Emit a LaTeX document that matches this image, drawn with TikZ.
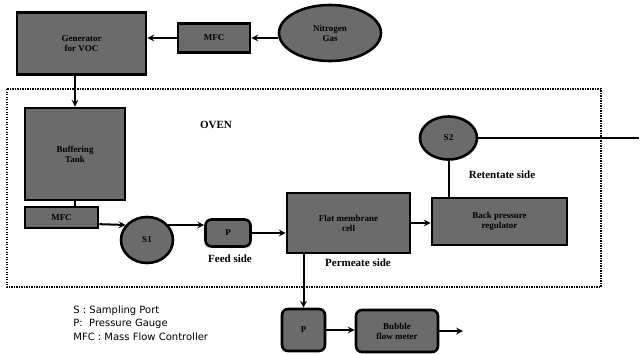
\documentclass[tikz,border=0pt]{standalone}
\usepackage{fontspec}
\setmainfont{Liberation Serif}
\setsansfont{DejaVu Sans}
\usepackage{tikz}
\usetikzlibrary{shapes.geometric}
\definecolor{shade}{gray}{0.42}

\begin{document}
\begin{tikzpicture}[x=1pt, y=-1pt, thick,
  unit/.style={draw, line width=2.6pt, fill=shade, inner sep=0pt, align=center,
    font=\bfseries\fontsize{9}{10}\selectfont},
  gauge/.style={unit, rounded corners=6pt},
  port/.style={unit, ellipse},
  flow/.style={->, >=stealth, line width=2pt},
  pipe/.style={line width=2pt},
  tag/.style={font=\bfseries\fontsize{11}{12}\selectfont},
  legend/.style={anchor=west, inner sep=0pt, font=\sffamily\fontsize{10}{11}\selectfont}]
  \useasboundingbox (0, 0) rectangle (641, 354);

  % oven
  \draw[line width=2.2pt, dash pattern=on 1.4pt off 1.1pt] (7, 89) rectangle (601, 287);
  \node[tag] (oven) at (216, 125) {OVEN};

  % gas supply
  \node[unit, minimum width=129, minimum height=62] (gen) at (81.5, 43.5) {Generator\\for VOC};
  \node[unit, minimum width=72, minimum height=29] (mfcA) at (214, 38) {MFC};
  \node[port, minimum width=102, minimum height=56] (ntwo) at (330, 33) {Nitrogen\\Gas};

  \draw[flow] (ntwo.west |- mfcA.east) -- (mfcA.east);
  \draw[flow] (mfcA.west) -- (mfcA.west -| gen.east);

  % feed line
  \node[unit, minimum width=100, minimum height=92] (buf) at (75, 154) {Buffering\\Tank};
  \node[unit, minimum width=73, minimum height=21] (mfcB) at (61.5, 217.5) {MFC};
  \node[port, minimum width=52, minimum height=46] (sone) at (147, 240) {S1};
  \node[gauge, minimum width=45, minimum height=27] (pfeed) at (228, 233) {P};
  \node[tag] (feed) at (230, 259) {Feed side};

  \draw[flow] (buf.north |- gen.south) -- (buf.north);
  \draw[pipe] (buf.south) -- (buf.south |- mfcB.north);
  \draw[flow] (mfcB.-10) -- (sone.145);
  \draw[flow] (sone.35) -- (sone.35 -| pfeed.west);

  % membrane cell and retentate
  \node[unit, minimum width=123, minimum height=60] (cell) at (348.5, 223) {Flat membrane\\cell};
  \node[unit, minimum width=135, minimum height=47] (bpr) at (499.5, 221.5) {Back pressure\\regulator};
  \node[port, minimum width=57, minimum height=43] (stwo) at (448.5, 138) {S2};
  \node[tag] (ret) at (502, 175) {Retentate side};
  \coordinate (vent) at (639, 138);

  \draw[flow] (pfeed.east) -- (pfeed.east -| cell.west);
  \draw[flow] (cell.east) -- (cell.east -| bpr.west);
  \draw[pipe] (stwo.south) -- (stwo.south |- bpr.north);
  \draw[pipe] (stwo.east) -- (vent);

  % permeate
  \node[tag] (perm) at (358, 263) {Permeate side};
  \node[gauge, minimum width=43, minimum height=42] (pperm) at (303.5, 330) {P};
  \node[gauge, minimum width=82, minimum height=42] (bfm) at (397, 331) {Bubble\\flow meter};
  \coordinate (outlet) at (463, 331);

  \draw[flow] (pperm.north |- cell.south) -- (pperm.north);
  \draw[flow] (pperm.east) -- (pperm.east -| bfm.west);
  \draw[flow] (bfm.east) -- (outlet);

  % key
  \node[legend] (keys) at (73, 311) {S : Sampling Port};
  \node[legend] (keyp) at (73, 324) {P:\ \ Pressure Gauge};
  \node[legend] (keym) at (73, 337) {MFC : Mass Flow Controller};
\end{tikzpicture}
\end{document}
